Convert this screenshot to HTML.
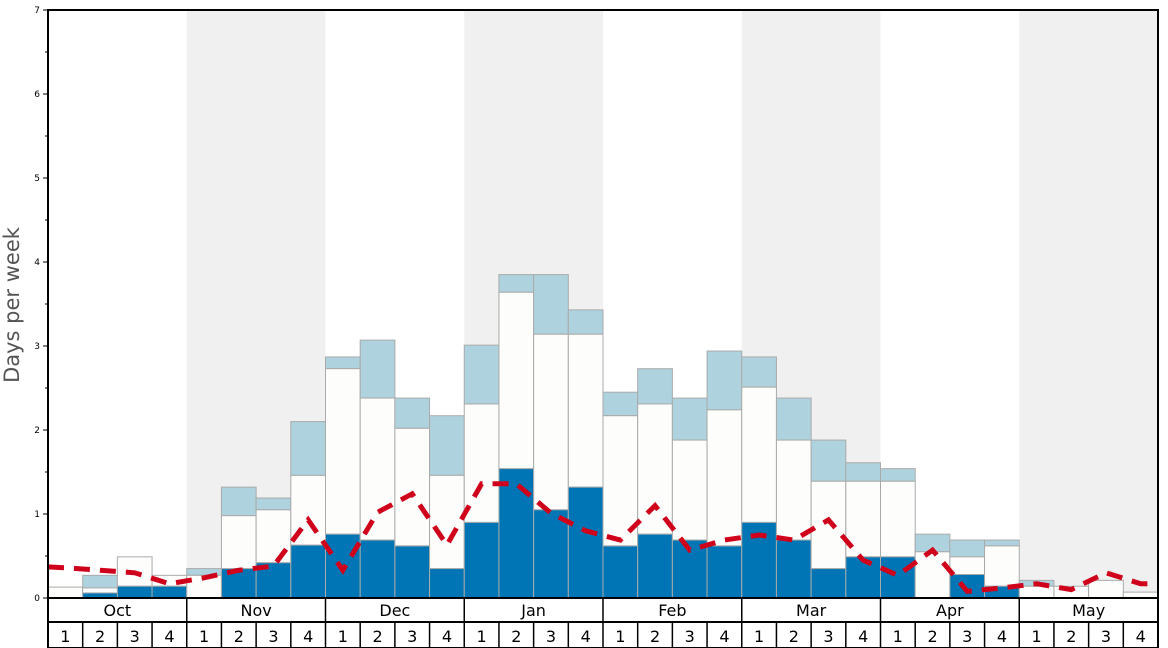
<!DOCTYPE html>
<html><head><meta charset="utf-8"><style>
html,body{margin:0;padding:0;background:#fff;}
svg{display:block;font-family:"DejaVu Sans","Liberation Sans",sans-serif;}
</style></head><body>
<svg id="chart" width="1168" height="648" viewBox="0 0 1168 648" xmlns="http://www.w3.org/2000/svg">
<g id="bg"></g>
<g id="bars"></g>
<g id="line"></g>
<g id="axes"></g>
<text x="19" y="305" transform="rotate(-90 19 305)" text-anchor="middle" font-size="21" fill="#555">Days per week</text>
</svg>
<script>
const months = ["Oct","Nov","Dec","Jan","Feb","Mar","Apr","May"];
const darkVals  = [0,0.06,0.14,0.14, 0,0.35,0.42,0.63, 0.76,0.69,0.62,0.35, 0.9,1.54,1.05,1.32, 0.62,0.76,0.69,0.62, 0.9,0.69,0.35,0.49, 0.49,0,0.28,0.14, 0,0,0,0];
const whiteVals = [0.13,0.12,0.49,0.27, 0.27,0.98,1.05,1.46, 2.73,2.38,2.02,1.46, 2.31,3.64,3.14,3.14, 2.17,2.31,1.88,2.24, 2.51,1.88,1.39,1.39, 1.39,0.55,0.49,0.62, 0.14,0.14,0.21,0.07];
const lightVals = [0.13,0.27,0.49,0.27, 0.35,1.32,1.19,2.1, 2.87,3.07,2.38,2.17, 3.01,3.85,3.85,3.43, 2.45,2.73,2.38,2.94, 2.87,2.38,1.88,1.61, 1.54,0.76,0.69,0.69, 0.21,0.14,0.21,0.07];
const avgVals   = [0.36,0.33,0.3,0.17, 0.24,0.33,0.38,0.93, 0.33,1.02,1.24,0.63, 1.36,1.36,1.01,0.8, 0.69,1.1,0.57,0.69, 0.75,0.69,0.93,0.45, 0.27,0.57,0.08,0.12, 0.17,0.1,0.3,0.17];
const yTicks = [0,1,2,3,4,5,6,7];

const NS="http://www.w3.org/2000/svg";
const L=48,R=1158,T=10,B=598,N=32,bw=(R-L)/N;
const xs=i=>L+i*bw;
const ys=v=>B-(B-T)*v/7;
function mk(tag,attrs,parent){const e=document.createElementNS(NS,tag);for(const k in attrs)e.setAttribute(k,attrs[k]);parent.appendChild(e);return e;}
const bg=document.getElementById('bg'),bars=document.getElementById('bars'),line=document.getElementById('line'),axes=document.getElementById('axes');
months.forEach((m,i)=>{
  if(i%2===1){const r=mk('rect',{x:xs(i*4),y:T,width:bw*4,height:B-T,fill:'#f0f0f0'},bg);
  
  }
});
function seg(i,lo,hi,fill,name){
  if(hi<=lo) return;
  const r=mk('rect',{x:xs(i),y:ys(hi),width:bw,height:ys(lo)-ys(hi),fill:fill,stroke:'#aaa','stroke-width':1},bars);
  
  
}
for(let i=0;i<N;i++){
  seg(i,Math.max(darkVals[i],whiteVals[i]),lightVals[i],'#aed3df','bar-light-'+(i+1));
  seg(i,darkVals[i],whiteVals[i],'#fdfdfb','bar-white-'+(i+1));
  seg(i,0,darkVals[i],'#0075b5','bar-dark-'+(i+1));
}
let d='M'+L+','+ys(avgVals[0]+0.01);
avgVals.forEach((v,i)=>{d+=' L'+(xs(i)+bw/2)+','+ys(v);});
d+=' L'+R+','+ys(avgVals[N-1]);
const p=mk('path',{d:d,fill:'none',stroke:'#d0021b','stroke-width':5,'stroke-dasharray':'16,10'},line);


mk('rect',{x:L,y:T,width:R-L,height:B-T,fill:'none',stroke:'#000','stroke-width':2},axes);
yTicks.forEach(v=>{
  mk('line',{x1:L-5,x2:L,y1:ys(v),y2:ys(v),stroke:'#000'},axes);
  const t=mk('text',{x:L-8,y:ys(v)+3,'text-anchor':'end','font-size':9,fill:'#000'},axes);
  t.textContent=v;
  
  
  if(v<7) mk('line',{x1:L-3,x2:L,y1:ys(v+0.5),y2:ys(v+0.5),stroke:'#000'},axes);
});
mk('rect',{x:L,y:B,width:R-L,height:648-B,fill:'#fff',stroke:'#000','stroke-width':2},axes);
mk('line',{x1:L,x2:R,y1:622,y2:622,stroke:'#000','stroke-width':2},axes);
months.forEach((m,i)=>{
  if(i>0) mk('line',{x1:xs(i*4),x2:xs(i*4),y1:B,y2:622,stroke:'#000','stroke-width':1.5},axes);
  const t=mk('text',{x:xs(i*4)+bw*2,y:616,'text-anchor':'middle','font-size':16,fill:'#000'},axes);
  t.textContent=m;
  
  
});
for(let i=0;i<N;i++){
  if(i>0) mk('line',{x1:xs(i),x2:xs(i),y1:622,y2:648,stroke:'#000','stroke-width':1.5},axes);
  const t=mk('text',{x:xs(i)+bw/2,y:642,'text-anchor':'middle','font-size':16,fill:'#000'},axes);
  t.textContent=(i%4)+1;
  
  
}
</script>
</body></html>
